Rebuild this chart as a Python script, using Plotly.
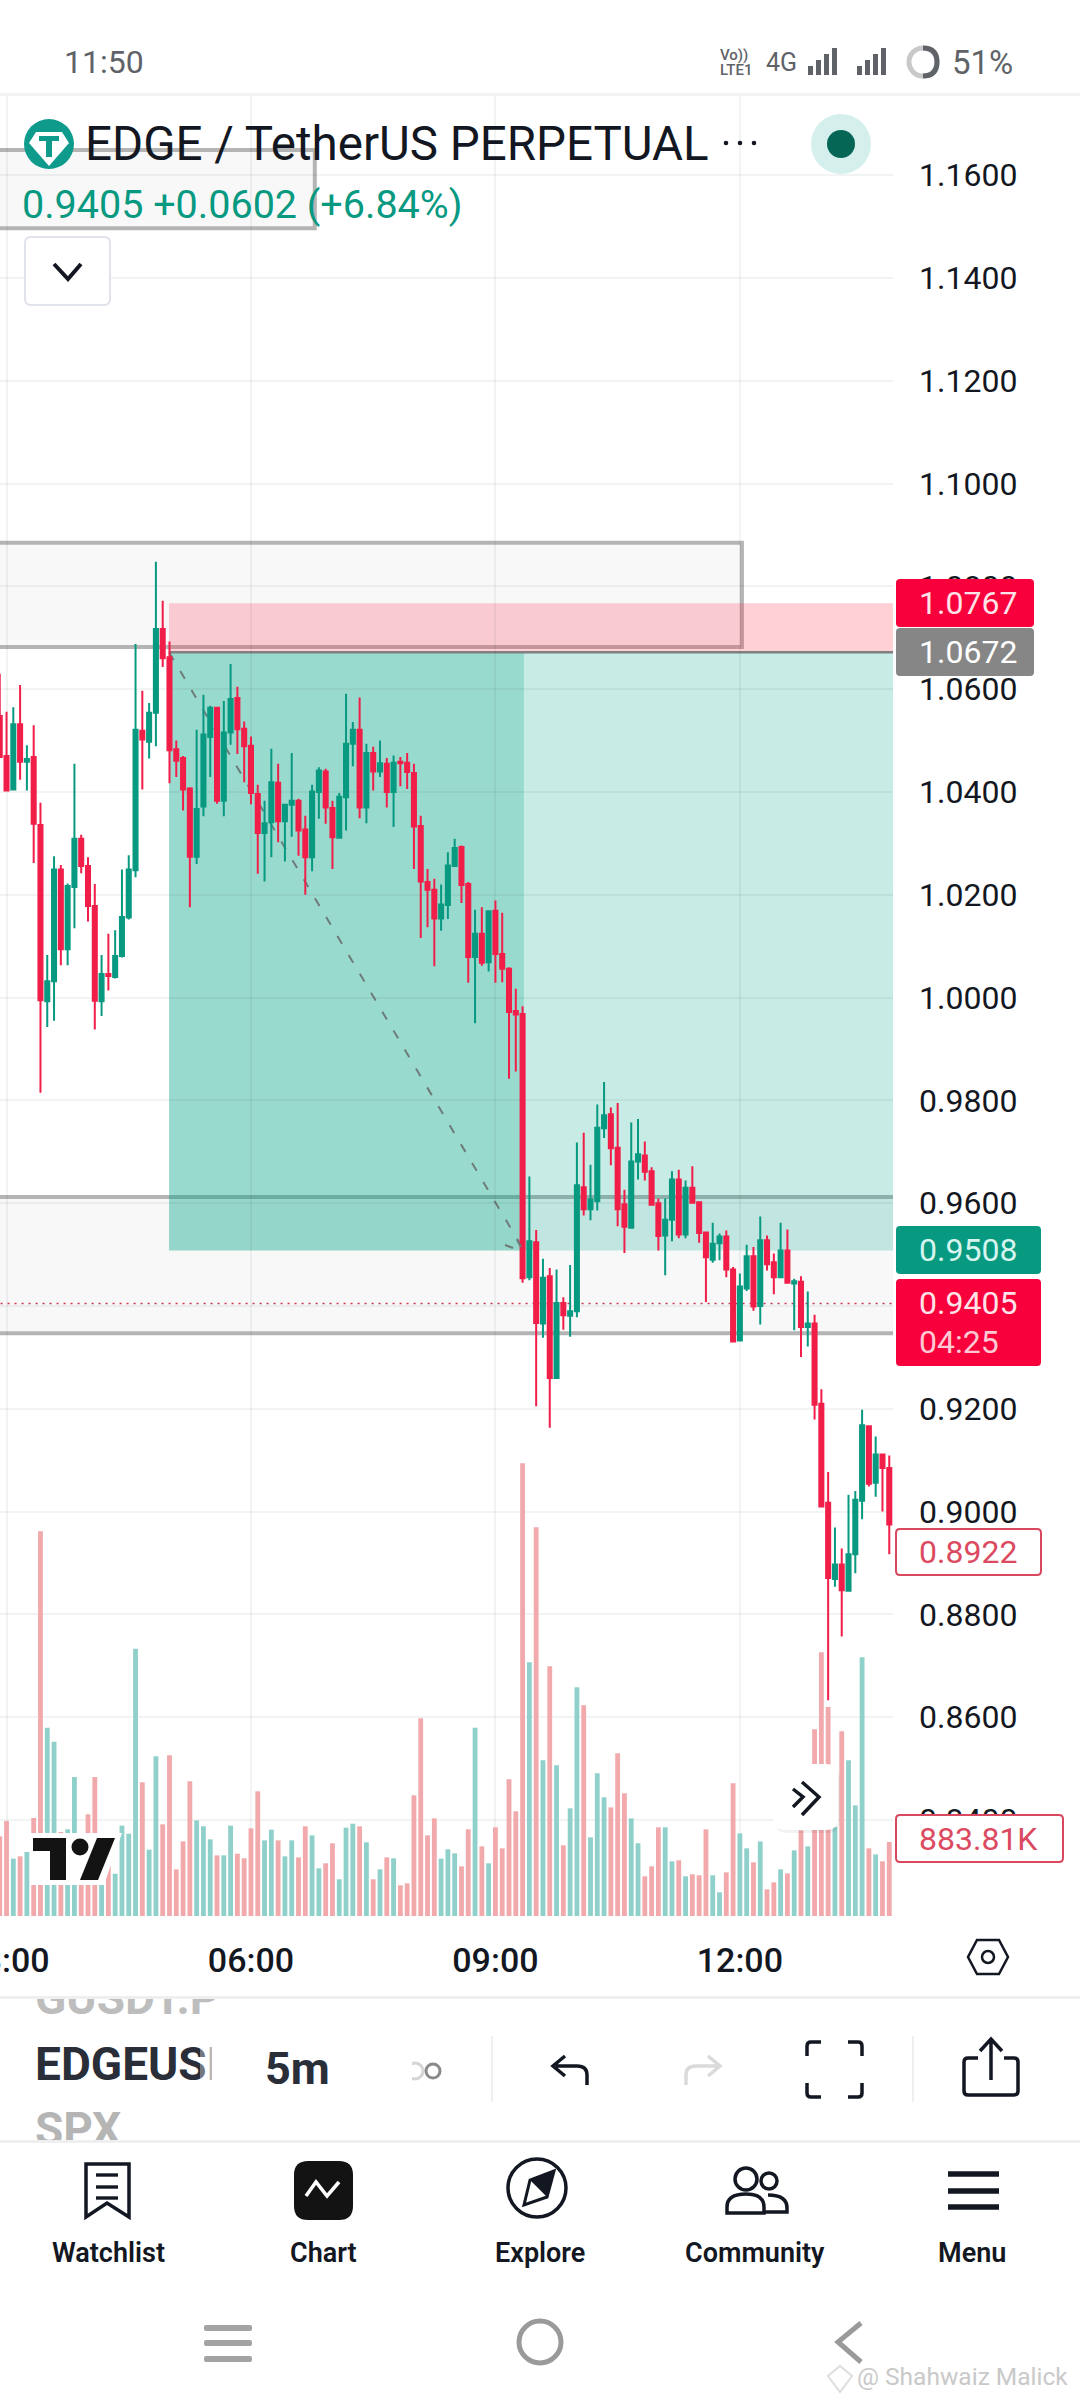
import plotly.graph_objects as go
import pandas as pd

# Candles run from 02:55 in 5 minute steps, one row per comment index
open_ = [
    1.0548, 1.0470, 1.0405, 1.0532, 1.0459, 1.0468, 1.0336, 0.9993, 1.0032, 1.0249,
    1.0094, 1.0215, 1.0309, 1.0256, 1.0178, 0.9993, 1.0046, 1.0040, 1.0081, 1.0156,
    1.0248, 1.0519, 1.0498, 1.0554, 1.0717, 1.0662, 1.0483, 1.0466, 1.0407, 1.0274,
    1.0372, 1.0507, 1.0564, 1.0383, 1.0516, 1.0583, 1.0523, 1.0490, 1.0396, 1.0320,
    1.0341, 1.0418, 1.0343, 1.0375, 1.0383, 1.0327, 1.0273, 1.0400, 1.0440, 1.0369,
    1.0311, 1.0390, 1.0494, 1.0521, 1.0370, 1.0476, 1.0440, 1.0455, 1.0400, 1.0459,
    1.0457, 1.0437, 1.0334, 1.0225, 1.0210, 1.0154, 1.0180, 1.0256, 1.0293, 1.0221,
    1.0079, 1.0124, 1.0069, 1.0169, 1.0085, 1.0056, 0.9974, 0.9968, 0.9456, 0.9524,
    0.9366, 0.9458, 0.9260, 0.9406, 0.9381, 0.9390, 0.9631, 0.9588, 0.9604, 0.9746,
    0.9773, 0.9708, 0.9598, 0.9552, 0.9681, 0.9693, 0.9662, 0.9600, 0.9537, 0.9568,
    0.9646, 0.9539, 0.9630, 0.9602, 0.9543, 0.9490, 0.9522, 0.9535, 0.9471, 0.9333,
    0.9434, 0.9497, 0.9400, 0.9528, 0.9485, 0.9456, 0.9508, 0.9444, 0.9447, 0.9359,
    0.9366, 0.9210, 0.9017, 0.8869, 0.8897, 0.8846, 0.8917, 0.9021, 0.9166, 0.9056,
    0.9111, 0.9085,
]
high = [
    1.0630, 1.0556, 1.0565, 1.0608, 1.0491, 1.0530, 1.0379, 1.0083, 1.0275, 1.0258,
    1.0222, 1.0455, 1.0317, 1.0273, 1.0221, 1.0083, 1.0124, 1.0131, 1.0249, 1.0277,
    1.0688, 1.0597, 1.0573, 1.0848, 1.0772, 1.0693, 1.0500, 1.0470, 1.0409, 1.0521,
    1.0589, 1.0568, 1.0565, 1.0577, 1.0649, 1.0605, 1.0537, 1.0508, 1.0414, 1.0383,
    1.0484, 1.0455, 1.0376, 1.0476, 1.0387, 1.0354, 1.0414, 1.0448, 1.0445, 1.0383,
    1.0398, 1.0591, 1.0536, 1.0584, 1.0494, 1.0488, 1.0500, 1.0466, 1.0471, 1.0468,
    1.0476, 1.0455, 1.0354, 1.0250, 1.0231, 1.0220, 1.0283, 1.0309, 1.0296, 1.0225,
    1.0171, 1.0176, 1.0169, 1.0189, 1.0165, 1.0059, 1.0017, 0.9983, 0.9652, 0.9548,
    0.9492, 0.9474, 0.9471, 0.9417, 0.9480, 0.9718, 0.9737, 0.9675, 0.9792, 0.9836,
    0.9786, 0.9795, 0.9626, 0.9757, 0.9764, 0.9720, 0.9670, 0.9609, 0.9609, 0.9662,
    0.9665, 0.9644, 0.9672, 0.9603, 0.9544, 0.9562, 0.9541, 0.9547, 0.9476, 0.9463,
    0.9519, 0.9515, 0.9574, 0.9537, 0.9502, 0.9562, 0.9549, 0.9453, 0.9458, 0.9428,
    0.9383, 0.9238, 0.9077, 0.8969, 0.8928, 0.9033, 0.9040, 0.9198, 0.9166, 0.9146,
    0.9111, 0.9109,
]
low = [
    1.0466, 1.0401, 1.0404, 1.0424, 1.0403, 1.0262, 0.9815, 0.9943, 0.9955, 1.0063,
    1.0063, 1.0135, 1.0242, 1.0148, 0.9938, 0.9964, 1.0014, 1.0037, 1.0078, 1.0152,
    1.0234, 1.0405, 1.0465, 1.0489, 1.0643, 1.0417, 1.0429, 1.0364, 1.0176, 1.0260,
    1.0353, 1.0429, 1.0377, 1.0353, 1.0492, 1.0474, 1.0419, 1.0376, 1.0241, 1.0226,
    1.0273, 1.0302, 1.0265, 1.0313, 1.0276, 1.0200, 1.0246, 1.0348, 1.0338, 1.0250,
    1.0310, 1.0325, 1.0450, 1.0349, 1.0339, 1.0403, 1.0429, 1.0370, 1.0332, 1.0411,
    1.0406, 1.0250, 1.0116, 1.0137, 1.0061, 1.0130, 1.0153, 1.0254, 1.0184, 1.0029,
    0.9950, 1.0062, 1.0051, 1.0029, 1.0030, 0.9842, 0.9856, 0.9445, 0.9450, 0.9205,
    0.9338, 0.9163, 0.9258, 0.9354, 0.9340, 0.9378, 0.9576, 0.9567, 0.9586, 0.9727,
    0.9674, 0.9555, 0.9503, 0.9551, 0.9646, 0.9644, 0.9596, 0.9508, 0.9460, 0.9526,
    0.9532, 0.9532, 0.9600, 0.9523, 0.9408, 0.9484, 0.9489, 0.9456, 0.9330, 0.9333,
    0.9429, 0.9391, 0.9364, 0.9469, 0.9423, 0.9456, 0.9445, 0.9353, 0.9301, 0.9321,
    0.9179, 0.9008, 0.8633, 0.8854, 0.8757, 0.8844, 0.8880, 0.8985, 0.9049, 0.9029,
    0.9000, 0.8917,
]
close = [
    1.0468, 1.0403, 1.0532, 1.0459, 1.0464, 1.0338, 0.9995, 1.0032, 1.0249, 1.0094,
    1.0217, 1.0309, 1.0256, 1.0178, 0.9994, 1.0046, 1.0042, 1.0081, 1.0157, 1.0249,
    1.0521, 1.0502, 1.0554, 1.0717, 1.0660, 1.0481, 1.0461, 1.0405, 1.0274, 1.0367,
    1.0512, 1.0564, 1.0383, 1.0516, 1.0581, 1.0522, 1.0489, 1.0398, 1.0320, 1.0339,
    1.0419, 1.0343, 1.0375, 1.0383, 1.0325, 1.0273, 1.0401, 1.0442, 1.0370, 1.0312,
    1.0391, 1.0494, 1.0521, 1.0370, 1.0476, 1.0440, 1.0456, 1.0400, 1.0457, 1.0456,
    1.0439, 1.0333, 1.0226, 1.0210, 1.0154, 1.0181, 1.0257, 1.0291, 1.0219, 1.0079,
    1.0124, 1.0068, 1.0168, 1.0085, 1.0056, 0.9972, 0.9967, 0.9454, 0.9526, 0.9367,
    0.9455, 0.9260, 0.9406, 0.9382, 0.9390, 0.9635, 0.9588, 0.9607, 0.9747, 0.9771,
    0.9707, 0.9588, 0.9554, 0.9681, 0.9695, 0.9661, 0.9597, 0.9536, 0.9568, 0.9646,
    0.9539, 0.9630, 0.9601, 0.9542, 0.9495, 0.9521, 0.9535, 0.9471, 0.9331, 0.9438,
    0.9497, 0.9399, 0.9528, 0.9481, 0.9456, 0.9508, 0.9445, 0.9448, 0.9359, 0.9366,
    0.9208, 0.9010, 0.8871, 0.8897, 0.8847, 0.8917, 0.9023, 0.9168, 0.9054, 0.9111,
    0.9085, 0.8975,
]
# Volume in thousands
volume = [
    951, 1134, 685, 712, 764, 1170, 4593, 2249, 2082, 1003,
    1035, 1660, 983, 1214, 1660, 784, 665, 505, 1079, 983,
    3192, 1596, 792, 1906, 1095, 1918, 557, 891, 1608, 1142,
    1071, 915, 724, 724, 1079, 744, 689, 1047, 1489, 903,
    1031, 903, 712, 903, 700, 1071, 963, 569, 629, 868,
    438, 1055, 1102, 1071, 880, 438, 557, 700, 689, 366,
    390, 1441, 2360, 963, 1166, 685, 796, 748, 593, 1035,
    2249, 832, 629, 1059, 808, 1632, 1250, 5405, 3029, 4641,
    1859, 2981, 1799, 844, 1286, 2730, 2515, 939, 1703, 1417,
    1297, 1942, 1465, 1166, 868, 474, 593, 1059, 1059, 653,
    665, 474, 498, 486, 1035, 486, 283, 521, 1584, 987,
    808, 641, 891, 318, 402, 557, 509, 784, 1023, 832,
    2229, 3148, 2495, 1063, 2205, 1859, 1321, 3088, 808, 736,
    653, 883.81,
]
price_ticks = [0.84 + 0.02 * i for i in range(17)]

GREEN = '#089981'
RED = '#F01E48'
FONT = 'Roboto'
GRID = 'rgba(42,46,57,0.06)'
BOX_FILL = 'rgba(130,130,150,0.06)'

# 03:00 candle sits at index 0, the first entry is one step earlier
t0 = pd.Timestamp('2025-01-01 03:00')
times = [t0 + pd.Timedelta(minutes=5 * i) for i in range(-1, len(open_) - 1)]

def at(i):
    return t0 + pd.Timedelta(minutes=5 * i)

x_range = [at(-0.96), at(130.55)]
vol_colors = ['#8FD0CA' if c >= o else '#F2A9AC' for o, c in zip(open_, close)]

# Volume sits on the base axis so that the candles are drawn over it
data1 = go.Bar(x=times, y=volume, marker=dict(color=vol_colors, line=dict(width=0)),
               xaxis='x', yaxis='y', showlegend=False)
data2 = go.Candlestick(
    x=times, open=open_, high=high, low=low, close=close,
    increasing=dict(line=dict(color=GREEN, width=2), fillcolor=GREEN),
    decreasing=dict(line=dict(color=RED, width=2), fillcolor=RED),
    xaxis='x', yaxis='y2', showlegend=False,
)
# Toolbar symbol text, drawn as a trace so that white shapes can cut it off
data3 = go.Scatter(
    x=[35, 35, 35], y=[2002, 2068, 2133], mode='text', text=['GUSDT.P', 'EDGEUSD', 'SPX'],
    textposition='middle right',
    textfont=dict(family=FONT, size=46, weight=700, color=['#BDBDBD', '#2A2E39', '#B5B5B5']),
    xaxis='x3', yaxis='y3', showlegend=False, cliponaxis=False,
)

# Drawings on the price scale
def zone(i0, i1, p0, p1, fill, line=None, width=0):
    return dict(type='rect', xref='x', yref='y2', x0=at(i0), x1=at(i1), y0=p0, y1=p1,
                fillcolor=fill, line=dict(color=line, width=width), layer='below')

shapes = [
    zone(-5, 45.4, 1.1497, 1.1649, BOX_FILL, '#B4B4B4', 4),
    zone(-5, 108.3, 1.0682, 1.0885, BOX_FILL, '#B4B4B4', 4),
    zone(-5, 135, 0.9347, 0.9612, BOX_FILL, '#B4B4B4', 4),
    zone(23.93, 76.2, 0.9508, 1.0672, 'rgba(0,163,136,0.40)'),
    zone(76.2, 135, 0.9508, 1.0672, 'rgba(0,163,136,0.22)'),
    zone(23.93, 135, 1.0672, 1.0767, 'rgba(255,40,70,0.22)'),
    dict(type='line', xref='x', yref='y2', x0=at(23.93), x1=at(135), y0=1.0672, y1=1.0672,
         line=dict(color='#808080', width=2.5), layer='below'),
    dict(type='line', xref='x', yref='y2', x0=at(23.93), x1=at(76.2), y0=1.0672, y1=0.9508,
         line=dict(color='#6E7C79', width=2, dash='9px,13px'), layer='below'),
    dict(type='line', xref='x', yref='y2', x0=at(-5), x1=at(135), y0=0.9405, y1=0.9405,
         line=dict(color='#D0304E', width=1.5, dash='2px,5px'), layer='below'),
]

# Everything around the chart is placed on a page sized axis pair, in pixels
def page_shape(**kw):
    base = dict(xref='x3', yref='y3', layer='above')
    base.update(kw)
    shapes.append(base)

def rrect(x0, y0, x1, y1, r, fill='white', line=None, width=0):
    path = (f'M{x0+r},{y0} L{x1-r},{y0} Q{x1},{y0} {x1},{y0+r} L{x1},{y1-r} Q{x1},{y1} {x1-r},{y1} '
            f'L{x0+r},{y1} Q{x0},{y1} {x0},{y1-r} L{x0},{y0+r} Q{x0},{y0} {x0+r},{y0} Z')
    page_shape(type='path', path=path, fillcolor=fill, line=dict(color=line, width=width))

def rect(x0, y0, x1, y1, fill):
    page_shape(type='rect', x0=x0, x1=x1, y0=y0, y1=y1, fillcolor=fill, line=dict(width=0))

def stroke(path, color='#131722', width=3):
    page_shape(type='path', path=path, line=dict(color=color, width=width))

def circle(cx, cy, r, fill='rgba(0,0,0,0)', line=None, width=0):
    page_shape(type='circle', x0=cx - r, x1=cx + r, y0=cy - r, y1=cy + r, fillcolor=fill,
               line=dict(color=line, width=width))

annotations = []
def label(x, y, text, size=32, color='#131722', anchor='left', weight=400):
    annotations.append(dict(xref='x3', yref='y3', x=x, y=y, text=text, showarrow=False, xanchor=anchor,
                            yanchor='middle', borderpad=0, borderwidth=0,
                            font=dict(family=FONT, size=size, color=color, weight=weight)))

# Status bar
rect(0, 0, 1080, 93, 'white')
rect(0, 93, 1080, 96, '#F1F2F4')
label(64, 62, '11:50', 32, '#5F6368')
label(720, 55, 'Vo))', 15, '#5F6368', weight=500)
label(720, 70, 'LTE1', 15, '#5F6368', weight=500)
label(766, 62, '4G', 25, '#5F6368')
for x_start in (808, 857):
    for j, top in enumerate((66, 60, 54, 48)):
        rect(x_start + j * 8, top, x_start + j * 8 + 5, 75, '#5F6368')
circle(923, 62, 14, line='#C9C9C9', width=5)
stroke('M923,48 Q937,48 937,62 Q937,76 923,76', '#5F6368', 5)
label(952, 62, '51%', 33, '#5F6368')

# Header
circle(49, 144, 25, fill='#0E9B8C')
page_shape(type='path', path='M36,132 L62,132 L69,143 L49,166 L29,143 Z', fillcolor='white', line=dict(width=0))
page_shape(type='path', path='M39,136 L59,136 L59,141 L52,141 L52,157 L46,157 L46,141 L39,141 Z',
           fillcolor='#0E9B8C', line=dict(width=0))
label(85, 144, 'EDGE / TetherUS PERPETUAL', 47.5)
for dot_x in (726, 740, 754):
    circle(dot_x, 143, 2.3, fill='#131722')
circle(841, 144, 30, fill='#D5F0EC')
circle(841, 144, 14, fill='#056656')
label(22, 204, '0.9405 +0.0602 (+6.84%)', 39.5, GREEN)
rrect(25, 237, 110, 305, 6, fill='white', line='#E0E3EB', width=2)
stroke('M54,264 L68,279 L81,264', '#131722', 4)

# Price labels on the scale
def price_box(y0, y1, x1, fill, text, text_color='white', line=None):
    rrect(896, y0, x1, y1, 4, fill=fill, line=line, width=2 if line else 0)
    label(919, (y0 + y1) / 2, text, 32, text_color)

price_box(579, 627, 1034, '#F7003C', '1.0767', '#FFE3E8')
price_box(628, 676, 1034, '#868686', '1.0672', 'white')
price_box(1226, 1274, 1041, GREEN, '0.9508', '#D6F5EF')
rrect(896, 1279, 1041, 1366, 4, fill='#F7003C')
label(919, 1303, '0.9405', 32, '#FFE3E8')
label(919, 1342, '04:25', 32, '#FFC9D3')
price_box(1529, 1575, 1041, 'white', '0.8922', '#DB4A60', '#D9485F')
price_box(1815, 1862, 1063, 'white', '883.81K', '#DB4A60', '#D9485F')

# Arrow head of the forecast line
stroke('M505,1245 L513,1248', '#6E7C79', 2)
stroke('M517,1240 L521,1247', '#6E7C79', 2)

# TradingView logo
page_shape(type='path', path='M30,1833 L122,1833 L104,1885 L30,1885 Z', fillcolor='white', line=dict(width=0))
page_shape(type='path', path='M33,1851 L33,1838 L66,1838 L66,1880 L50,1880 L50,1851 Z', fillcolor='#131313', line=dict(width=0))
circle(80, 1847, 8.5, fill='#131313')
page_shape(type='path', path='M97,1838 L115,1838 L98,1880 L80,1880 Z', fillcolor='#131313', line=dict(width=0))

# Scroll to latest button
rrect(775, 1767, 840, 1833, 12, fill='rgba(0,0,0,0.05)')
rrect(773, 1764, 838, 1830, 12, fill='white')
stroke('M793,1789 L803,1797 L793,1807', '#131722', 3.5)
stroke('M802,1782 L819,1797 L802,1815', '#131722', 3.5)

# Settings hexagon beside the time scale
stroke('M977,1940 L999,1940 L1008,1957 L999,1974 L977,1974 L968,1957 Z', '#131722', 2.5)
circle(988, 1957, 6, line='#131722', width=2.5)

# Toolbar, white strips cut the scrolled symbols
rect(30, 1976, 225, 1997, 'white')
rect(0, 1996, 1080, 1999, '#EFEFF1')
rect(30, 2142, 225, 2160, 'white')
rect(0, 2140, 1080, 2143, '#EFEFF1')
rect(200, 2036, 206, 2100, 'rgba(255,255,255,0.35)')
rect(206, 2036, 212, 2100, 'rgba(255,255,255,0.65)')
rect(212, 2036, 262, 2100, 'white')
label(265, 2068, '5m', 45, '#2A2E39', weight=700)
circle(415, 2071, 8, line='#D5D5D5', width=3)
circle(433, 2071, 7, line='#8A8A8A', width=3)
rect(402, 2060, 412, 2082, 'white')
rect(491, 2036, 493, 2102, '#EFEFF1')
rect(912, 2036, 914, 2102, '#EFEFF1')
stroke('M587,2085 L587,2075 Q587,2066 577,2066 L556,2066 M565,2056 L553,2066 L565,2076', '#131722', 3.5)
stroke('M686,2085 L686,2075 Q686,2066 696,2066 L717,2066 M708,2056 L720,2066 L708,2076', '#DADADA', 3.5)
for cx_sign, cy_sign, x_c, y_c in ((1, 1, 807, 2042), (-1, 1, 862, 2042), (1, -1, 807, 2097), (-1, -1, 862, 2097)):
    stroke(f'M{x_c},{y_c + 14 * cy_sign} L{x_c},{y_c + 4 * cy_sign} Q{x_c},{y_c} {x_c + 4 * cx_sign},{y_c} L{x_c + 14 * cx_sign},{y_c}',
           '#131722', 3.5)
stroke('M978,2058 L968,2058 Q964,2058 964,2062 L964,2091 Q964,2095 968,2095 L1014,2095 Q1018,2095 1018,2091 L1018,2062 Q1018,2058 1014,2058 L1004,2058',
       '#131722', 3.5)
stroke('M991,2080 L991,2040 M980,2051 L991,2039 L1002,2051', '#131722', 3.5)

# Bottom navigation
stroke('M86,2164 L129,2164 L129,2217 L107,2203 L86,2217 Z', '#131722', 3.5)
for y_line in (2175, 2187, 2198):
    rect(96, y_line - 1.7, 118, y_line + 1.7, '#131722')
rrect(294, 2161, 353, 2220, 14, fill='#131313')
stroke('M306,2196 L316,2182 L327,2196 L339,2182', 'white', 3.5)
circle(537, 2188, 29, line='#131722', width=3.5)
page_shape(type='path', path='M554,2171 L547,2197 L524,2205 L530,2180 Z', fillcolor='white', line=dict(color='#131722', width=3))
page_shape(type='path', path='M554,2171 L547,2197 L530,2180 Z', fillcolor='#131722', line=dict(width=0))
circle(746, 2179, 11, line='#131722', width=3.5)
circle(769, 2181, 8, line='#131722', width=3.5)
stroke('M727,2213 L727,2207 Q727,2194 746,2194 Q764,2194 764,2207 L764,2213 Z', '#131722', 3.5)
stroke('M768,2195 Q787,2195 787,2208 L787,2212 L765,2212', '#131722', 3.5)
for y_line in (2174, 2191, 2207):
    rect(948, y_line - 2.7, 999, y_line + 2.7, '#131722')
for x_c, text in zip((108, 323, 540, 755, 972), ('Watchlist', 'Chart', 'Explore', 'Community', 'Menu')):
    label(x_c, 2253, text, 27, '#131722', 'center', 600)

# Android navigation keys
for y_line in (2328, 2343, 2359):
    rrect(204, y_line - 3, 252, y_line + 3, 2, fill='#A3A3A3')
circle(540, 2342, 21, line='#9A9A9A', width=5)
stroke('M861,2323 L838,2342 L861,2362', '#9A9A9A', 5)

# Watermark
stroke('M840,2366 L852,2376 L840,2392 L828,2376 Z', '#DDDDDD', 2)
label(857, 2376, '@ Shahwaiz Malick', 24.5, '#C9C9C9')

top_px, bottom_px, right_px = 95, 1916, 893
px_per_step = 102.8
fig = go.Figure(data=[data1, data2, data3])
fig.update_layout(
    width=1080, height=2400, margin=dict(l=0, r=0, t=0, b=0, autoexpand=False),
    paper_bgcolor='white', plot_bgcolor='rgba(0,0,0,0)', boxgap=0.15, bargap=0.29,
    font=dict(family=FONT), showlegend=False, shapes=shapes, annotations=annotations,
    xaxis=dict(
        domain=[0, right_px / 1080], range=x_range, type='date', anchor='y', automargin=False,
        rangeslider=dict(visible=False), tick0=t0, dtick=3 * 3600 * 1000, tickformat='%H:%M',
        showgrid=True, gridcolor=GRID, gridwidth=2, zeroline=False, showline=False, ticks='',
        ticklabelstandoff=21, ticklabeloverflow='allow',
        tickfont=dict(family=FONT, size=34, color='#131722', weight=500),
    ),
    # 1 px of volume is about 11.94K, going by the 883.81K label
    yaxis=dict(
        domain=[1 - bottom_px / 2400, 1 - top_px / 2400], range=[0, (bottom_px - top_px) * 11.94],
        visible=False, showgrid=False, zeroline=False, fixedrange=True, automargin=False,
    ),
    yaxis2=dict(
        domain=[1 - bottom_px / 2400, 1 - top_px / 2400], overlaying='y', side='right', anchor='x',
        range=[0.84 - (bottom_px - 1820) / px_per_step * 0.02, 0.84 + (1820 - top_px) / px_per_step * 0.02],
        tickvals=price_ticks, tickformat='.4f', showgrid=True, gridcolor=GRID, gridwidth=2,
        zeroline=False, showline=False, ticks='', ticklabelstandoff=25, automargin=False,
        tickfont=dict(family=FONT, size=32, color='#131722'),
    ),
    xaxis3=dict(domain=[0, 1], range=[0, 1080], visible=False, anchor='y3', fixedrange=True, automargin=False),
    yaxis3=dict(domain=[0, 1], range=[2400, 0], visible=False, anchor='x3', fixedrange=True, automargin=False),
)

fig.write_html("out.html", config=dict(displayModeBar=False),
               post_script="document.body.style.margin='0';")
